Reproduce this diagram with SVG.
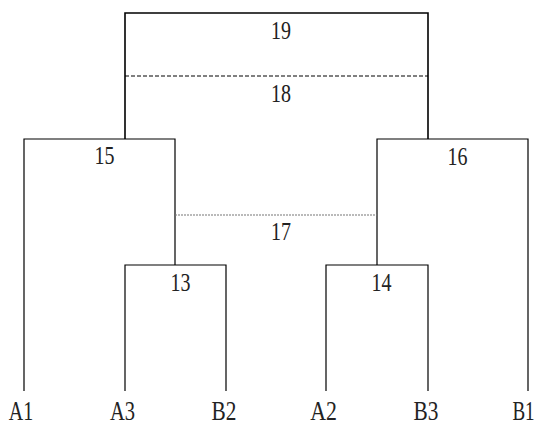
<svg xmlns="http://www.w3.org/2000/svg" width="543" height="426" viewBox="0 0 543 426">
<style>
.ln{fill:none;stroke:#000;stroke-width:1.2}
.thick{stroke-width:1.6}
.dash{fill:none;stroke:#000;stroke-width:1;stroke-dasharray:4 2}
.dot{fill:none;stroke:#777;stroke-width:1.2;stroke-dasharray:2 1}
.num{font-family:"Liberation Serif",serif;font-size:25px;fill:#222;text-anchor:middle}
.lab{font-family:"Liberation Serif",serif;font-size:26px;fill:#222;text-anchor:middle}
</style>
<rect width="543" height="426" fill="#fff"/>
<g id="connectors">
<path class="ln thick" d="M125 139V13H428V139"/>
<path class="ln" d="M24 391V139H175V265"/>
<path class="ln" d="M377 265V139H528V391"/>
<path class="ln" d="M125 391V265H226V391"/>
<path class="ln" d="M326 391V265H428V391"/>
<path class="dash" d="M125 76H428"/>
<path class="dot" d="M175 215H377"/>
</g>
<g id="n19"><text class="num" transform="translate(281 39) scale(0.8 1)">19</text></g>
<g id="n18"><text class="num" transform="translate(281 101.5) scale(0.8 1)">18</text></g>
<g id="n15"><text class="num" transform="translate(104.5 164) scale(0.8 1)">15</text></g>
<g id="n16"><text class="num" transform="translate(457.5 165) scale(0.8 1)">16</text></g>
<g id="n17"><text class="num" transform="translate(281 239.5) scale(0.8 1)">17</text></g>
<g id="n13"><text class="num" transform="translate(180.5 290.5) scale(0.8 1)">13</text></g>
<g id="n14"><text class="num" transform="translate(381.5 290.5) scale(0.8 1)">14</text></g>
<g id="A1"><text class="lab" transform="translate(21 420) scale(0.77 1.05)">A1</text></g>
<g id="A3"><text class="lab" transform="translate(122.5 420) scale(0.79 1.05)">A3</text></g>
<g id="B2"><text class="lab" transform="translate(224 420) scale(0.82 1.05)">B2</text></g>
<g id="A2"><text class="lab" transform="translate(323.5 420) scale(0.84 1.05)">A2</text></g>
<g id="B3"><text class="lab" transform="translate(426 420) scale(0.82 1.05)">B3</text></g>
<g id="B1"><text class="lab" transform="translate(523.5 420) scale(0.73 1.05)">B1</text></g>
</svg>
